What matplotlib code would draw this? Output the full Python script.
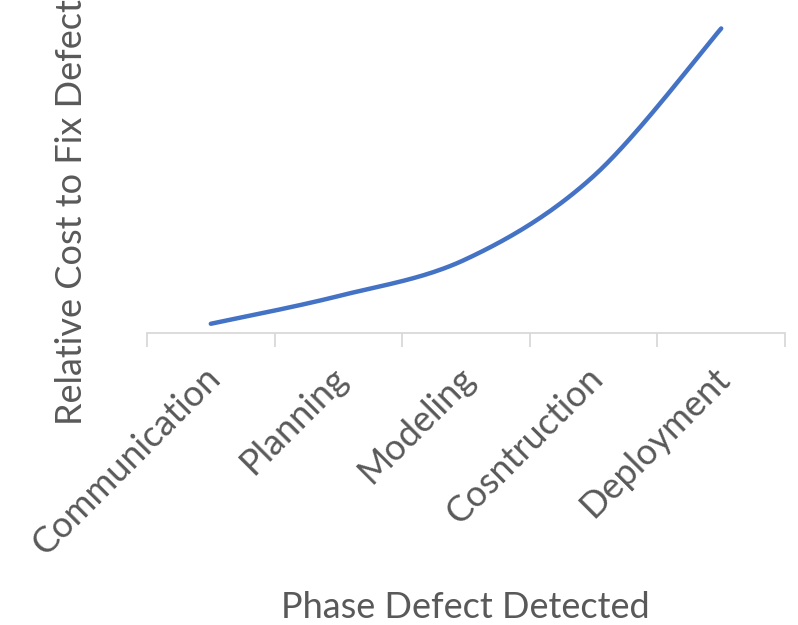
import numpy as np
import matplotlib.pyplot as plt
import matplotlib.transforms as mtransforms

# Data
phases = ['Communication', 'Planning', 'Modeling', 'Cosntruction', 'Deployment']
relative_cost = [1, 4, 8, 17, 33]

plt.rcParams['font.family'] = ['Lato', 'DejaVu Sans']
text_color = '#595959'
grid_color = '#d9d9d9'


def smooth(x, y, n=40):
    # Catmull-Rom curve through the points, like Excel's smoothed line
    x = np.asarray(x, float)
    y = np.asarray(y, float)
    px = np.concatenate([[x[0]], x, [x[-1]]])
    py = np.concatenate([[y[0]], y, [y[-1]]])
    xs, ys = [], []
    t = np.linspace(0, 1, n)
    for i in range(1, len(px) - 2):
        p0, p1, p2, p3 = (np.array([px[j], py[j]]) for j in range(i - 1, i + 3))
        c1 = p1 + (p2 - p0) / 6
        c2 = p2 - (p3 - p1) / 6
        seg = ((1 - t) ** 3)[:, None] * p1 + (3 * (1 - t) ** 2 * t)[:, None] * c1 \
            + (3 * (1 - t) * t ** 2)[:, None] * c2 + (t ** 3)[:, None] * p2
        xs.extend(seg[:, 0])
        ys.extend(seg[:, 1])
    return xs, ys


fig = plt.figure(figsize=(7.98, 6.25), dpi=100)
ax = fig.add_axes([147 / 798, 1 - 333 / 625, (785 - 147) / 798, 323 / 625])

xpos = np.arange(len(phases))
sx, sy = smooth(xpos, relative_cost)
ax.plot(sx, sy, color='#4472c4', linewidth=3.2, solid_capstyle='round', clip_on=False)

ax.set_xlim(-0.5, len(phases) - 0.5)
ax.set_ylim(0, 35)

for side in ['top', 'right', 'left']:
    ax.spines[side].set_visible(False)
ax.spines['bottom'].set_color(grid_color)
ax.spines['bottom'].set_linewidth(1.3)
ax.set_yticks([])

ax.set_xticks(xpos)
ax.set_xticks(np.arange(-0.5, len(phases)), minor=True)
ax.tick_params(axis='x', which='major', length=0, pad=20)
ax.tick_params(axis='x', which='minor', length=10, color=grid_color, width=1.3)
ax.set_xticklabels(phases, rotation=45, ha='right', va='top', rotation_mode='anchor',
                   fontsize=26, color=text_color)
offset = mtransforms.ScaledTranslation(-0.08, 0, fig.dpi_scale_trans)
for lbl in ax.get_xticklabels():
    lbl.set_transform(lbl.get_transform() + offset)

fig.text(465 / 798, 1 - 607 / 625, 'Phase Defect Detected', ha='center', va='center',
         fontsize=26, color=text_color)
fig.text(72 / 798, 1 - 212 / 625, 'Relative Cost to Fix Defect', ha='center', va='center',
         rotation=90, fontsize=26, color=text_color)

fig.savefig('out.png', dpi=100)
